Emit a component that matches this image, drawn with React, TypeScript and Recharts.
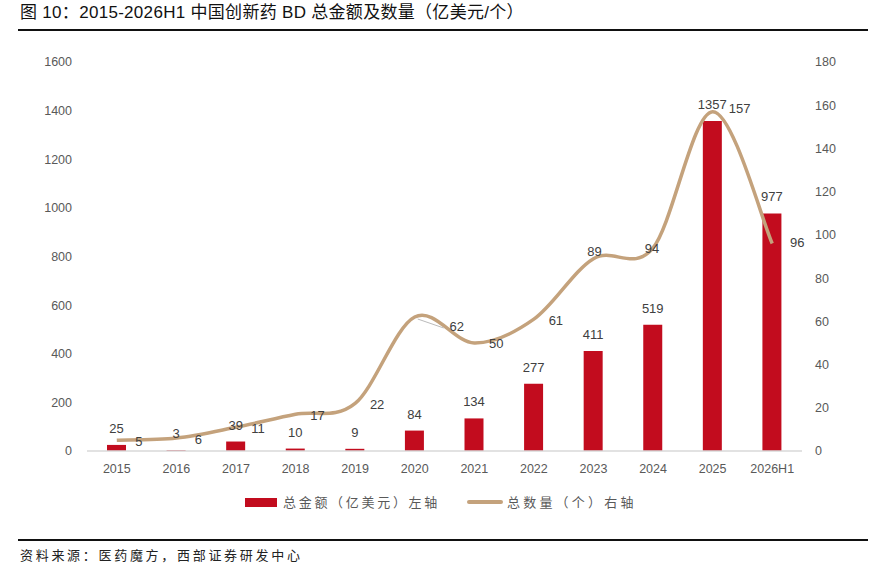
import React from 'react';
import { ComposedChart, Bar, Line, XAxis, YAxis, LabelList } from 'recharts';

const years = ['2015', '2016', '2017', '2018', '2019', '2020', '2021', '2022', '2023', '2024', '2025', '2026H1'];
const amounts = [25, 3, 39, 10, 9, 84, 134, 277, 411, 519, 1357, 977];
const counts = [5, 6, 11, 17, 22, 62, 50, 61, 89, 94, 157, 96];
const leftTicks = [0, 200, 400, 600, 800, 1000, 1200, 1400, 1600];
const rightTicks = [0, 20, 40, 60, 80, 100, 120, 140, 160, 180];

const data = years.map((y, i) => ({ year: y, amount: amounts[i], count: counts[i] }));

const FONT = '"Liberation Sans", Arial, "Noto Sans CJK SC", sans-serif';
const CJK = '"Noto Sans CJK SC", "Liberation Sans", sans-serif';
const RED = '#C20C1E';
const TAN = '#C4A27C';
const TEXT = '#404040';

// Catmull-Rom style smoothing (similar to spreadsheet smoothed lines)
const smoothCurve = (context: any) => {
  let pts: number[][] = [];
  return {
    areaStart() {},
    areaEnd() {},
    lineStart() {
      pts = [];
    },
    point(x: number, y: number) {
      pts.push([+x, +y]);
    },
    lineEnd() {
      if (!pts.length) return;
      context.moveTo(pts[0][0], pts[0][1]);
      for (let i = 0; i < pts.length - 1; i++) {
        const p0 = pts[i - 1] || pts[i];
        const p1 = pts[i];
        const p2 = pts[i + 1];
        const p3 = pts[i + 2] || pts[i + 1];
        const c1x = p1[0] + (p2[0] - p0[0]) / 6;
        const c1y = p1[1] + (p2[1] - p0[1]) / 6;
        const c2x = p2[0] - (p3[0] - p1[0]) / 6;
        const c2y = p2[1] - (p3[1] - p1[1]) / 6;
        context.bezierCurveTo(c1x, c1y, c2x, c2y, p2[0], p2[1]);
      }
    },
  };
};

const CountLabel = (props: any) => {
  const { x, y, value, index } = props;
  let dx = 22;
  let dy = 1;
  if (index === 5) {
    dx = 42;
    dy = 9;
  } else if (index === 8) {
    dx = 1;
    dy = -7;
  } else if (index === 9) {
    dx = -1;
    dy = 1;
  } else if (index === 10) {
    dx = 27;
    dy = -3;
  } else if (index === 11) {
    dx = 25;
    dy = -1;
  }
  return (
    <g>
      {index === 5 && (
        <line x1={x + 3} y1={y + 2} x2={x + 29} y2={y + 11} stroke="#BBBBBB" strokeWidth={1} />
      )}
      <text
        x={x + dx}
        y={y + dy}
        textAnchor="middle"
        dominantBaseline="central"
        fontSize={13}
        fill={TEXT}
        fontFamily={FONT}
      >
        {value}
      </text>
    </g>
  );
};

export default function App() {
  return (
    <div
      style={{
        position: 'absolute',
        left: 0,
        top: 0,
        width: 886,
        height: 568,
        background: '#fff',
        overflow: 'hidden',
      }}
    >
      <div
        style={{
          position: 'absolute',
          left: 20,
          top: 2,
          fontSize: 17,
          fontFamily: FONT,
          color: '#111',
          whiteSpace: 'nowrap',
          lineHeight: '22px',
          letterSpacing: 0.3,
        }}
      >
        图 10：2015-2026H1 中国创新药 BD 总金额及数量（亿美元/个）
      </div>
      <div style={{ position: 'absolute', left: 18, top: 29, width: 850, height: 1.5, background: '#111' }} />

      <div style={{ position: 'absolute', left: 0, top: 0 }}>
        <ComposedChart
          width={886}
          height={481}
          data={data}
          margin={{ top: 62, right: 0, bottom: 0, left: 0 }}
        >
          <XAxis
            dataKey="year"
            height={30}
            axisLine={{ stroke: '#D9D9D9', strokeWidth: 1.5 }}
            tickLine={false}
            tickSize={0}
            tickMargin={13}
            interval={0}
            tick={{ fontSize: 12.5, fill: '#595959', fontFamily: FONT }}
          />
          <YAxis
            yAxisId="left"
            orientation="left"
            width={87}
            domain={[0, 1600]}
            ticks={leftTicks}
            axisLine={false}
            tickLine={false}
            tickSize={0}
            tickMargin={15}
            tick={{ fontSize: 12.5, fill: '#595959', fontFamily: FONT }}
          />
          <YAxis
            yAxisId="right"
            orientation="right"
            width={84}
            domain={[0, 180]}
            ticks={rightTicks}
            axisLine={false}
            tickLine={false}
            tickSize={0}
            tickMargin={13}
            tick={{ fontSize: 12.5, fill: '#595959', fontFamily: FONT }}
          />
          <Bar yAxisId="left" dataKey="amount" fill={RED} barSize={19} isAnimationActive={false}>
            <LabelList
              dataKey="amount"
              position="top"
              offset={12}
              fontSize={13}
              fill={TEXT}
              fontFamily={FONT}
            />
          </Bar>
          <Line
            yAxisId="right"
            dataKey="count"
            type={smoothCurve as any}
            stroke={TAN}
            strokeWidth={3.5}
            dot={false}
            activeDot={false}
            isAnimationActive={false}
          >
            <LabelList dataKey="count" content={CountLabel} />
          </Line>
        </ComposedChart>
      </div>

      <div
        style={{
          position: 'absolute',
          left: 245,
          top: 492,
          display: 'flex',
          alignItems: 'center',
          fontFamily: CJK,
          fontSize: 13,
          color: '#595959',
          lineHeight: '20px',
          whiteSpace: 'nowrap',
        }}
      >
        <div style={{ display: 'flex', alignItems: 'center' }}>
          <span style={{ display: 'inline-block', width: 32, height: 9, background: RED, marginRight: 6 }} />
          <span style={{ letterSpacing: 2.7 }}>总金额（亿美元）左轴</span>
        </div>
        <div style={{ marginLeft: 27, display: 'flex', alignItems: 'center' }}>
          <span style={{ display: 'inline-block', width: 36, height: 4, background: TAN, marginRight: 4, borderRadius: 2 }} />
          <span style={{ letterSpacing: 3.2 }}>总数量（个）右轴</span>
        </div>
      </div>

      <div style={{ position: 'absolute', left: 18, top: 539, width: 850, height: 1.5, background: '#111' }} />
      <div
        style={{
          position: 'absolute',
          left: 20,
          top: 546,
          fontSize: 13,
          fontFamily: CJK,
          color: '#222',
          lineHeight: '18px',
          whiteSpace: 'nowrap',
          letterSpacing: 2.7,
        }}
      >
        资料来源：医药魔方，西部证券研发中心
      </div>
    </div>
  );
}
